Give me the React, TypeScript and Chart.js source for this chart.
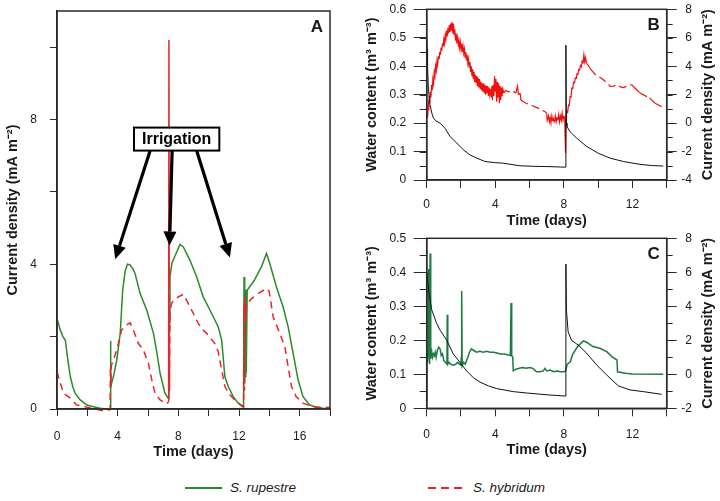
import React, { useEffect, useRef } from 'react';
import { Chart, registerables } from 'chart.js';

Chart.register(...registerables);

const FONT = "'Liberation Sans', Arial, Helvetica, sans-serif";
const AXIS = '#2a2a2a';
const TEXT = '#1a1a1a';
const GREEN_A = '#2b8a2b';
const RED_A = '#e8262a';
const RED_B = '#f01010';
const GREEN_C = '#1d7a40';
const BLACK = '#111111';

// ---------- Panel A : current density (mA m-2) vs time (days) ----------
const aRupDays = [0, 0.2, 0.39, 0.55, 0.7, 0.88, 1.05, 1.2, 1.53, 1.97,
  2.4, 2.85, 3.2, 3.5, 3.52, 3.54, 3.56, 3.6, 3.75, 3.94,
  4.17, 4.33, 4.5, 4.65, 4.82, 5.0, 5.15, 5.48, 5.92, 6.36,
  6.56, 6.8, 7.12, 7.34, 7.38, 7.41, 7.45, 7.57, 7.85, 8.11,
  8.33, 8.77, 9.21, 9.64, 10.09, 10.41, 10.63, 10.86, 11.07, 11.29,
  11.62, 11.95, 12.24, 12.3, 12.33, 12.36, 12.39, 12.42, 12.45, 12.48,
  12.54, 13.0, 13.5, 13.81, 14.03, 14.47, 14.91, 15.24, 15.57, 15.9,
  16.22, 16.66, 17.1, 17.54, 18];
const aRupVals = [2.5, 2.2, 2.0, 1.9, 1.4, 0.89, 0.6, 0.43, 0.25, 0.11,
  0.06, 0.02, 0.0, 0.0, 1.88, 0.3, 0.6, 0.71, 0.95, 1.35,
  2.1, 3.28, 3.83, 4.0, 3.98, 3.88, 3.74, 3.19, 2.73, 2.09,
  1.63, 0.98, 0.43, 0.3, 0.35, 2.4, 3.65, 4.02, 4.3, 4.55,
  4.48, 4.11, 3.65, 3.1, 2.73, 2.46, 2.27, 1.9, 0.89, 0.62,
  0.34, 0.16, 0.06, 0.05, 3.65, 0.7, 2.8, 0.9, 3.3, 1.0,
  3.28, 3.55, 3.95, 4.3, 4.02, 3.37, 2.82, 2.27, 1.54, 0.8,
  0.34, 0.11, 0.05, 0.02, 0.0];
const aHybDays = [0, 0.22, 0.44, 0.88, 1.3, 1.97, 2.63, 3.07, 3.5, 3.52,
  3.55, 3.58, 3.72, 3.94, 4.26, 4.56, 4.82, 5.04, 5.37, 5.7,
  6.03, 6.25, 6.47, 6.8, 7.24, 7.36, 7.38, 7.4, 7.42, 7.45,
  7.56, 7.68, 8.0, 8.33, 8.55, 8.99, 9.32, 9.64, 9.87, 10.41,
  10.63, 10.86, 11.07, 11.4, 11.84, 12.15, 12.3, 12.33, 12.36, 12.4,
  12.45, 12.5, 12.83, 13.3, 13.81, 13.99, 14.25, 14.69, 15.02, 15.24,
  15.46, 15.77, 16.22, 16.88, 17.5, 18];
const aHybVals = [1.03, 0.71, 0.43, 0.3, 0.11, 0.05, -0.01, -0.05, -0.02, 1.17,
  0.6, 1.2, 1.35, 1.63, 2.18, 2.32, 2.38, 2.18, 1.81, 1.63,
  1.26, 0.8, 0.43, 0.25, 0.14, 0.2, 10.2, 3.5, 0.5, 2.7,
  2.92, 3.0, 3.1, 3.17, 3.0, 2.64, 2.36, 2.18, 2.09, 1.81,
  1.58, 1.08, 0.62, 0.39, 0.2, 0.11, 0.08, 2.9, 0.5, 3.1,
  2.4, 2.9, 3.05, 3.2, 3.33, 3.25, 2.55, 2.09, 1.72, 1.17,
  0.62, 0.34, 0.16, 0.06, 0.05, 0.04];
const aXLabels = [0, 4, 8, 12, 16];
const aYLabels = [0, 4, 8];

// Irrigation annotation (data coordinates of panel A)
const irrigationText = 'Irrigation';
const irrigationBoxCentre = [7.89, 7.46];
const irrigationArrows = [
  { from: [6.14, 7.14], to: [3.84, 4.14] },
  { from: [7.59, 7.14], to: [7.42, 4.52] },
  { from: [9.21, 7.14], to: [11.4, 4.19] },
];

// ---------- Panel B ----------
const bWaterDays = [0, 0.02, 0.05, 0.1, 0.19, 0.3, 0.39, 0.55, 0.78, 1.07,
  1.36, 1.75, 2.14, 2.53, 2.92, 3.4, 4.0, 4.47, 5.44, 6.3,
  7.19, 8.1, 8.12, 8.15, 8.18, 8.36, 8.75, 9.33, 10.01, 10.69,
  11.47, 12.44, 13.1, 13.8];
const bWaterVals = [0.5, 0.46, 0.4, 0.32, 0.265, 0.235, 0.218, 0.207, 0.2, 0.182,
  0.153, 0.13, 0.106, 0.088, 0.077, 0.065, 0.061, 0.059, 0.05, 0.048,
  0.047, 0.045, 0.474, 0.2, 0.188, 0.17, 0.147, 0.118, 0.094, 0.077,
  0.065, 0.055, 0.051, 0.049];
const bCurDays = [0.00, 0.03, 0.06, 0.09, 0.12, 0.15, 0.18, 0.21, 0.25, 0.28,
  0.32, 0.36, 0.40, 0.44, 0.48, 0.52, 0.56, 0.60, 0.64, 0.68,
  0.72, 0.76, 0.80, 0.84, 0.88, 0.92, 0.96, 1.00, 1.04, 1.08,
  1.12, 1.16, 1.20, 1.24, 1.28, 1.32, 1.36, 1.40, 1.44, 1.48,
  1.52, 1.56, 1.60, 1.64, 1.68, 1.72, 1.76, 1.80, 1.84, 1.88,
  1.92, 1.96, 2.00, 2.04, 2.08, 2.12, 2.16, 2.20, 2.24, 2.28,
  2.32, 2.36, 2.40, 2.44, 2.48, 2.52, 2.56, 2.60, 2.64, 2.68,
  2.72, 2.76, 2.80, 2.84, 2.88, 2.92, 2.96, 3.00, 3.04, 3.08,
  3.12, 3.16, 3.20, 3.24, 3.28, 3.32, 3.36, 3.40, 3.44, 3.48,
  3.52, 3.56, 3.60, 3.64, 3.68, 3.72, 3.76, 3.80, 3.84, 3.88,
  3.92, 3.96, 4.00, 4.04, 4.08, 4.12, 4.16, 4.20, 4.24, 4.28,
  4.32, 4.36, 4.40, 4.44, 4.50, 4.60, 4.80, 5.00, 5.20, 5.30,
  5.35, 5.45, 5.50, 5.80, 6.20, 6.50, 6.90, 7.00, 7.03, 7.10,
  7.15, 7.20, 7.25, 7.30, 7.35, 7.40, 7.45, 7.50, 7.55, 7.60,
  7.65, 7.70, 7.75, 7.80, 7.85, 7.90, 7.95, 8.00, 8.05, 8.10,
  8.13, 8.18, 8.22, 8.27, 8.32, 8.37, 8.42, 8.47, 8.52, 8.57,
  8.62, 8.67, 8.72, 8.77, 8.82, 8.87, 8.92, 8.97, 9.02, 9.07,
  9.12, 9.17, 9.22, 9.27, 9.32, 9.40, 9.55, 9.70, 9.85, 10.00,
  10.20, 10.40, 10.55, 10.70, 10.90, 11.10, 11.30, 11.47, 11.70, 11.95,
  12.20, 12.44, 12.70, 13.00, 13.30, 13.55, 13.80];
const bCurVals = [0.3, 1.2, 0.4, 1.6, 0.9, 1.9, 1.4, 2.2, 1.8, 2.7,
  2.3, 3.1, 2.8, 3.6, 3.3, 4.0, 3.7, 4.4, 4.1, 4.7,
  4.5, 5.0, 4.8, 5.3, 5.1, 5.6, 5.4, 5.9, 5.6, 6.2,
  5.9, 6.5, 6.1, 6.7, 6.3, 6.9, 6.4, 7.0, 6.5, 7.1,
  6.3, 7.0, 6.2, 6.6, 5.8, 6.3, 5.6, 6.0, 5.5, 5.8,
  5.3, 5.7, 5.2, 5.6, 5.0, 5.4, 4.9, 5.2, 4.6, 5.0,
  4.4, 4.8, 4.2, 4.5, 3.9, 4.3, 3.6, 4.0, 3.3, 3.8,
  3.1, 3.6, 2.9, 3.4, 2.8, 3.3, 2.6, 3.2, 2.5, 3.1,
  2.4, 2.9, 2.3, 2.8, 2.2, 2.8, 2.1, 2.7, 2.0, 2.6,
  2.1, 2.6, 1.9, 2.5, 2.0, 2.4, 1.8, 2.6, 1.6, 2.7,
  1.9, 3.3, 2.2, 3.1, 1.5, 2.9, 1.8, 2.8, 1.4, 2.6,
  1.6, 2.5, 1.9, 2.4, 2.1, 2.3, 2.2, 2.3, 2.1, 2.6,
  2.0, 2.1, 1.6, 1.4, 1.2, 1.05, 0.8, 0.7, 0.2, 0.5,
  0.1, 0.4, 0.0, 0.5, 0.15, 0.3, 0.05, 0.5, 0.1, 0.4,
  0.2, 0.6, 0.1, 0.5, 0.2, 0.7, 0.2, 0.5, 0.3, -2.1,
  0.4, 0.9, 0.7, 1.3, 1.2, 1.9, 1.8, 2.5, 2.4, 2.9,
  2.8, 3.2, 3.1, 3.5, 3.4, 3.8, 3.7, 4.1, 3.9, 4.4,
  4.2, 4.8, 4.3, 4.6, 4.2, 4.1, 3.8, 3.6, 3.4, 3.3,
  3.15, 2.94, 2.8, 2.58, 2.6, 2.7, 2.55, 2.5, 2.6, 2.7,
  2.4, 2.12, 1.95, 1.77, 1.41, 1.25, 1.1];

// ---------- Panel C ----------
const cWaterDays = [0, 0.01, 0.1, 0.29, 0.58, 0.78, 1.17, 1.55, 1.94, 2.33,
  2.72, 3.11, 3.6, 4.08, 5.05, 5.83, 7.19, 8.1, 8.12, 8.15,
  8.25, 8.45, 8.84, 9.33, 9.92, 10.5, 11.18, 11.86, 12.64, 13.71];
const cWaterVals = [0.02, 0.4, 0.35, 0.29, 0.25, 0.23, 0.2, 0.16, 0.135, 0.11,
  0.09, 0.077, 0.066, 0.058, 0.049, 0.045, 0.039, 0.036, 0.424, 0.289,
  0.225, 0.2, 0.186, 0.162, 0.127, 0.098, 0.066, 0.054, 0.049, 0.041];
const cCurDays = [0.00, 0.02, 0.05, 0.08, 0.10, 0.12, 0.14, 0.16, 0.18, 0.20,
  0.22, 0.25, 0.30, 0.35, 0.40, 0.45, 0.50, 0.55, 0.62, 0.70,
  0.78, 0.85, 0.92, 1.00, 1.10, 1.18, 1.20, 1.23, 1.30, 1.40,
  1.50, 1.60, 1.70, 1.80, 1.90, 1.98, 2.02, 2.04, 2.07, 2.15,
  2.25, 2.40, 2.50, 2.60, 2.75, 2.90, 3.10, 3.30, 3.50, 3.70,
  3.90, 4.10, 4.30, 4.50, 4.70, 4.88, 4.92, 4.96, 5.02, 5.05,
  5.20, 5.40, 5.60, 5.80, 6.00, 6.20, 6.40, 6.60, 6.80, 6.90,
  7.00, 7.20, 7.40, 7.60, 7.80, 8.00, 8.10, 8.20, 8.38, 8.50,
  8.80, 9.14, 9.30, 9.43, 9.70, 10.10, 10.50, 10.80, 11.10, 11.13,
  11.60, 12.00, 13.80];
const cCurVals = [0.8, 1.2, 0.7, 1.5, 6.2, 1.0, 1.5, 0.6, 1.3, 7.1,
  1.2, 0.9, 1.3, 1.0, 1.2, 1.1, 1.3, 1.0, 1.4, 1.6,
  1.5, 1.1, 1.2, 0.8, 0.7, 0.6, 3.5, 0.6, 0.7, 0.6,
  0.55, 0.55, 0.6, 0.7, 0.6, 0.55, 1.0, 4.9, 0.5, 0.7,
  0.6, 1.0, 1.3, 1.5, 1.4, 1.3, 1.35, 1.3, 1.35, 1.3,
  1.3, 1.25, 1.2, 1.2, 1.15, 1.1, 4.2, 1.1, 1.0, 0.2,
  0.3, 0.35, 0.4, 0.35, 0.4, 0.35, 0.15, 0.15, 0.2, 0.35,
  0.2, 0.25, 0.15, 0.2, 0.15, 0.15, 0.2, 0.6, 0.74, 1.14,
  1.63, 1.96, 1.9, 1.82, 1.63, 1.53, 1.33, 1.04, 0.84, 0.15,
  0.06, 0.02, 0.0];
const bcXLabels = [0, 4, 8, 12];

const TIME_TITLE = 'Time (days)';
const CURRENT_TITLE = 'Current density (mA m\u207B\u00B2)';
const WATER_TITLE = 'Water content (m\u00B3 m\u207B\u00B3)';

const xy = (xs: number[], ys: number[]) => xs.map((x, i) => ({ x, y: ys[i] }));
const hasLabel = (list: number[], v: number) => list.some((l) => Math.abs(l - v) < 1e-6);

const tickFont = { family: FONT, size: 12 };
const titleFont = { family: FONT, size: 14.5, weight: 'bold' as const };

// solid stroke for steep jumps (as in the original trace), dashes elsewhere
const steepSolid = (limit: number) => ({
  borderDash: (ctx: any) => (Math.abs(ctx.p1.parsed.y - ctx.p0.parsed.y) > limit ? [] : undefined),
});

function timeAxis(max: number, labels: number[], tickPad: number, titlePadBottom: number, height: number, tickLen: number) {
  return {
    type: 'linear' as const,
    min: 0,
    max,
    ticks: {
      stepSize: 2, autoSkip: false, includeBounds: false, maxRotation: 0, minRotation: 0,
      padding: tickPad, color: TEXT, font: tickFont,
      callback: (v: any) => (hasLabel(labels, Number(v)) ? String(v) : ''),
    },
    grid: { drawOnChartArea: false, drawTicks: true, tickLength: tickLen, tickColor: AXIS, tickWidth: 1 },
    border: { display: true, color: AXIS, width: 1.5 },
    title: { display: true, text: TIME_TITLE, color: TEXT, font: titleFont, padding: { top: 0, bottom: titlePadBottom } },
    afterFit: (s: any) => { s.height = height; s.paddingLeft = 0; s.paddingRight = 0; },
  };
}

const fitWidth = (w: number) => (s: any) => { s.width = w; s.paddingTop = 0; s.paddingBottom = 0; };

type Minor = { id: string; step: number; len: number };
function makeDecor(letter: string, minor: Minor[], rightTitleX?: number) {
  return {
    id: 'decor' + letter,
    afterDraw(chart: any) {
      const ctx = chart.ctx as CanvasRenderingContext2D;
      const ca = chart.chartArea;
      ctx.save();
      ctx.strokeStyle = AXIS;
      ctx.lineWidth = 1.5;
      ctx.strokeRect(ca.left, ca.top, ca.right - ca.left, ca.bottom - ca.top);
      ctx.lineWidth = 1;
      for (const m of minor) {
        const s = chart.scales[m.id];
        const n = Math.round((s.max - s.min) / m.step);
        for (let i = 0; i <= n; i++) {
          const p = Math.round(s.getPixelForValue(s.min + i * m.step)) + 0.5;
          ctx.beginPath();
          if (s.position === 'left') { ctx.moveTo(ca.left - m.len, p); ctx.lineTo(ca.left, p); }
          else { ctx.moveTo(ca.right, p); ctx.lineTo(ca.right + m.len, p); }
          ctx.stroke();
        }
      }
      ctx.fillStyle = TEXT;
      ctx.font = `bold 17px ${FONT}`;
      ctx.textAlign = 'right';
      ctx.textBaseline = 'alphabetic';
      ctx.fillText(letter, ca.right - 7, ca.top + 20.5);
      if (rightTitleX !== undefined) {
        ctx.translate(rightTitleX, (ca.top + ca.bottom) / 2);
        ctx.rotate(-Math.PI / 2);
        ctx.font = `bold 14.5px ${FONT}`;
        ctx.textAlign = 'center';
        ctx.textBaseline = 'middle';
        ctx.fillText(CURRENT_TITLE, 0, 0);
      }
      ctx.restore();
    },
  };
}

const irrigationPlugin = {
  id: 'irrigation',
  afterDraw(chart: any) {
    const ctx = chart.ctx as CanvasRenderingContext2D;
    const sx = chart.scales.x, sy = chart.scales.y;
    ctx.save();
    ctx.fillStyle = '#000';
    ctx.strokeStyle = '#000';
    for (const a of irrigationArrows) {
      const x1 = sx.getPixelForValue(a.from[0]), y1 = sy.getPixelForValue(a.from[1]);
      const x2 = sx.getPixelForValue(a.to[0]), y2 = sy.getPixelForValue(a.to[1]);
      const ang = Math.atan2(y2 - y1, x2 - x1);
      const head = 14, hw = 6.5;
      const bx = x2 - head * Math.cos(ang), by = y2 - head * Math.sin(ang);
      ctx.lineWidth = 3.2;
      ctx.beginPath(); ctx.moveTo(x1, y1); ctx.lineTo(bx, by); ctx.stroke();
      ctx.beginPath();
      ctx.moveTo(x2, y2);
      ctx.lineTo(bx + hw * Math.sin(ang), by - hw * Math.cos(ang));
      ctx.lineTo(bx - hw * Math.sin(ang), by + hw * Math.cos(ang));
      ctx.closePath(); ctx.fill();
    }
    ctx.font = `bold 16px ${FONT}`;
    const w = ctx.measureText(irrigationText).width + 16;
    const h = 23;
    const cx = sx.getPixelForValue(irrigationBoxCentre[0]);
    const cy = sy.getPixelForValue(irrigationBoxCentre[1]);
    ctx.fillStyle = '#fff';
    ctx.fillRect(cx - w / 2, cy - h / 2, w, h);
    ctx.lineWidth = 2;
    ctx.strokeRect(cx - w / 2, cy - h / 2, w, h);
    ctx.fillStyle = '#000';
    ctx.textAlign = 'center';
    ctx.textBaseline = 'middle';
    ctx.fillText(irrigationText, cx, cy + 1);
    ctx.restore();
  },
};

function configA(): any {
  return {
    type: 'line',
    data: {
      datasets: [
        { label: 'S. hybridum', data: xy(aHybDays, aHybVals), borderColor: RED_A, borderWidth: 1.5, borderDash: [7, 5], segment: steepSolid(4), pointRadius: 0, tension: 0, clip: 4, order: 0 },
        { label: 'S. rupestre', data: xy(aRupDays, aRupVals), borderColor: GREEN_A, borderWidth: 1.5, pointRadius: 0, tension: 0, clip: 4, order: 1 },
      ],
    },
    options: {
      responsive: false, animation: false, devicePixelRatio: 1,
      layout: { padding: { top: 11, right: 30, left: 0, bottom: 0 } },
      plugins: { legend: { display: false }, tooltip: { enabled: false } },
      scales: {
        x: timeAxis(18, aXLabels, 13, 9.6, 61, 7),
        y: {
          type: 'linear', min: 0, max: 11,
          ticks: { stepSize: 2, autoSkip: false, includeBounds: false, padding: 13, color: TEXT, font: tickFont,
            callback: (v: any) => (hasLabel(aYLabels, Number(v)) ? String(v) : '') },
          grid: { drawOnChartArea: false, drawTicks: true, tickLength: 7, tickColor: AXIS, tickWidth: 1 },
          border: { display: true, color: AXIS, width: 1.5 },
          title: { display: true, text: CURRENT_TITLE, color: TEXT, font: titleFont, padding: { top: 4.6, bottom: 0 } },
          afterFit: fitWidth(57),
        },
      },
    },
    plugins: [makeDecor('A', []), irrigationPlugin],
  };
}

function configBC(which: 'B' | 'C'): any {
  const isB = which === 'B';
  const waterMax = isB ? 0.6 : 0.5;
  const curMin = isB ? -4 : -2;
  const datasets = isB
    ? [
        { data: xy(bWaterDays, bWaterVals), yAxisID: 'yL', borderColor: BLACK, borderWidth: 1, pointRadius: 0, tension: 0, order: 0 },
        { data: xy(bCurDays, bCurVals), yAxisID: 'yR', borderColor: RED_B, borderWidth: 1.2, borderDash: [8, 4], segment: steepSolid(0.25), pointRadius: 0, tension: 0, order: 1 },
      ]
    : [
        { data: xy(cWaterDays, cWaterVals), yAxisID: 'yL', borderColor: BLACK, borderWidth: 1, pointRadius: 0, tension: 0, order: 0 },
        { data: xy(cCurDays, cCurVals), yAxisID: 'yR', borderColor: GREEN_C, borderWidth: 1.5, pointRadius: 0, tension: 0, order: 1 },
      ];
  return {
    type: 'line',
    data: { datasets },
    options: {
      responsive: false, animation: false, devicePixelRatio: 1,
      layout: { padding: { top: isB ? 9.3 : 8.3, right: 28, left: 0, bottom: 0 } },
      plugins: { legend: { display: false }, tooltip: { enabled: false } },
      scales: {
        x: timeAxis(14, bcXLabels, isB ? 9 : 11.5, isB ? 0 : 1.3, isB ? 50 : 51.7, 8),
        yL: {
          type: 'linear', position: 'left', min: 0, max: waterMax,
          ticks: { stepSize: 0.1, autoSkip: false, includeBounds: false, padding: 7.5, color: TEXT, font: tickFont,
            callback: (v: any) => { const r = Math.round(Number(v) * 10) / 10; return r === 0 ? '0' : r.toFixed(1); } },
          grid: { drawOnChartArea: false, drawTicks: true, tickLength: 13, tickColor: AXIS, tickWidth: 1 },
          border: { display: true, color: AXIS, width: 1.5 },
          title: { display: true, text: WATER_TITLE, color: TEXT, font: titleFont, padding: { top: isB ? 3.7 : 3, bottom: 0 } },
          afterFit: fitWidth(66.7),
        },
        yR: {
          type: 'linear', position: 'right', min: curMin, max: 8,
          ticks: { stepSize: 2, autoSkip: false, includeBounds: false, crossAlign: 'far', padding: 3, color: TEXT, font: tickFont,
            callback: (v: any) => String(Math.round(Number(v))) },
          grid: { drawOnChartArea: false, drawTicks: true, tickLength: 10, tickColor: AXIS, tickWidth: 1 },
          border: { display: true, color: AXIS, width: 1.5 },
          afterFit: fitWidth(25.3),
        },
      },
    },
    plugins: [makeDecor(which, [{ id: 'yL', step: 0.05, len: 7 }, { id: 'yR', step: 1, len: 6 }], 348)],
  };
}

export default function App() {
  const refA = useRef<HTMLCanvasElement>(null);
  const refB = useRef<HTMLCanvasElement>(null);
  const refC = useRef<HTMLCanvasElement>(null);

  useEffect(() => {
    const charts = [
      new Chart(refA.current as HTMLCanvasElement, configA()),
      new Chart(refB.current as HTMLCanvasElement, configBC('B')),
      new Chart(refC.current as HTMLCanvasElement, configBC('C')),
    ];
    return () => charts.forEach((c) => c.destroy());
  }, []);

  const legendText: React.CSSProperties = {
    position: 'absolute', top: 479, fontFamily: FONT, fontStyle: 'italic', fontSize: 13.5,
    lineHeight: '18px', color: TEXT, whiteSpace: 'nowrap',
  };

  return (
    <div style={{ position: 'absolute', left: 0, top: 0, width: 720, height: 501, background: '#fff', overflow: 'hidden' }}>
      <canvas ref={refA} width={360} height={470} style={{ position: 'absolute', left: 0, top: 0, width: 360, height: 470 }} />
      <canvas ref={refB} width={360} height={230} style={{ position: 'absolute', left: 360, top: 0, width: 360, height: 230 }} />
      <canvas ref={refC} width={360} height={230} style={{ position: 'absolute', left: 360, top: 230, width: 360, height: 230 }} />
      <div style={{ position: 'absolute', left: 185, top: 487, width: 37, height: 2, background: GREEN_A }} />
      <div style={{ ...legendText, left: 230 }}>S. rupestre</div>
      <div style={{ position: 'absolute', left: 428, top: 487, width: 34, height: 2,
        background: `repeating-linear-gradient(to right, ${RED_A} 0px, ${RED_A} 8px, transparent 8px, transparent 13px)` }} />
      <div style={{ ...legendText, left: 473 }}>S. hybridum</div>
    </div>
  );
}
